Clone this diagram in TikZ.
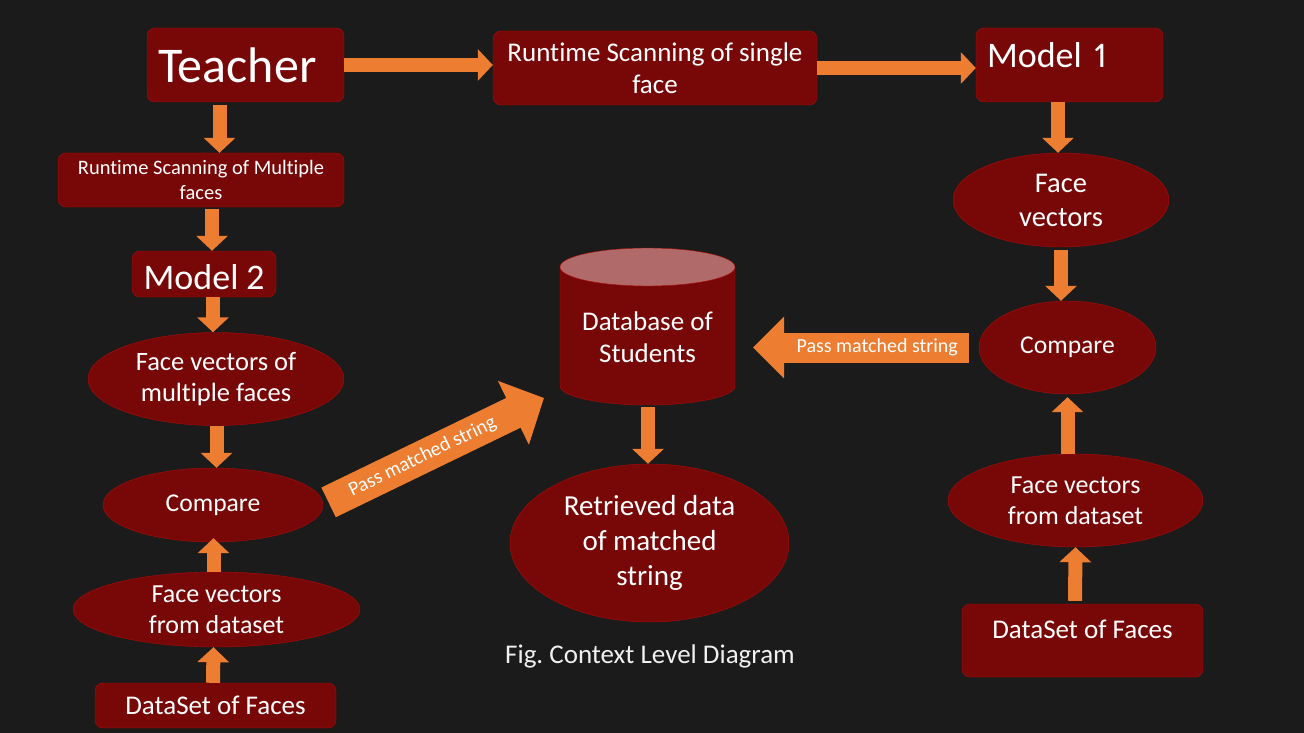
\documentclass[tikz,border=0pt]{standalone}
\usepackage{fontspec}
\setmainfont{Carlito}[Ligatures={NoCommon, NoRare}, Contextuals=NoAlternate, Numbers=Proportional]
\usetikzlibrary{shapes.geometric, arrows.meta}

\definecolor{bgdark}{HTML}{1B1B1B}
\definecolor{boxred}{HTML}{780808}
\definecolor{edgered}{HTML}{B00A0A}
\definecolor{dbtop}{HTML}{B06A6A}
\definecolor{arrorange}{HTML}{ED7D31}

\tikzset{
  box/.style={draw=edgered, fill=boxred, rounded corners=8pt, text=white, align=center, inner sep=2pt},
  oval/.style={ellipse, draw=edgered, fill=boxred, text=white, align=center, inner sep=0pt},
  flow/.style={draw=arrorange, line width=14pt, -{Triangle[length=15pt, width=31pt]}},
  bigflow/.style={draw=arrorange, line width=30pt, -{Triangle[length=31pt, width=60pt]}}
}

\begin{document}
\begin{tikzpicture}[x=1pt, y=-1pt]
  \fill[bgdark] (0,0) rectangle (1304,733);
  \useasboundingbox (0,0) rectangle (1304,733);

  \node[box, minimum width=197pt, minimum height=74pt, text width=175pt, inner xsep=11pt, align=left, font=\fontsize{50}{60}\selectfont] (teacher) at (245.5,65) {Teacher};
  \node[box, minimum width=324pt, minimum height=74pt, font=\fontsize{27}{32}\selectfont] (rtsingle) at (655,68) {Runtime Scanning of single\\face};
  \node[box, minimum width=187pt, minimum height=74pt, text width=165pt, text depth=20pt, align=left, font=\fontsize{36}{43}\selectfont] (model1) at (1069.5,65) {Model 1};
  \node[box, minimum width=286pt, minimum height=54pt, font=\fontsize{20.5}{25}\selectfont] (rtmulti) at (201,180) {Runtime Scanning of Multiple\\faces};
  \node[box, minimum width=144pt, minimum height=46pt, text height=31pt, font=\fontsize{36}{43}\selectfont] (model2) at (204,274) {Model 2};
  \node[oval, minimum width=256pt, minimum height=93pt, font=\fontsize{26.5}{31}\selectfont] (fvmulti) at (216,379) {Face vectors of\\multiple faces};
  \node[oval, minimum width=220pt, minimum height=74pt, font=\fontsize{25.6}{31}\selectfont] (cmpL) at (213,505) {Compare};
  \node[oval, minimum width=287pt, minimum height=75pt, font=\fontsize{26}{31}\selectfont] (fvdsL) at (216.5,609.5) {Face vectors\\from dataset};
  \node[box, minimum width=241pt, minimum height=45pt, font=\fontsize{27}{32}\selectfont] (dsL) at (215.5,705.5) {DataSet of Faces};

  \node[oval, minimum width=216pt, minimum height=94pt, font=\fontsize{28.5}{34}\selectfont] (fvR) at (1061,200) {Face\\vectors};
  \node[oval, minimum width=177pt, minimum height=93pt, font=\fontsize{25.6}{31}\selectfont] (cmpR) at (1067.5,347.5) {Compare};
  \node[oval, minimum width=255pt, minimum height=93pt, font=\fontsize{26}{31}\selectfont] (fvdsR) at (1075.5,500.5) {Face vectors\\from dataset};
  \node[box, minimum width=241pt, minimum height=73pt, text depth=22pt, font=\fontsize{27}{32}\selectfont] (dsR) at (1082.5,640.5) {DataSet of Faces};

  \fill[boxred] (560,267) -- (560,386) arc[start angle=180, end angle=0, x radius=87.5, y radius=19] -- (735,267) -- cycle;
  \draw[edgered] (560,267) -- (560,386) arc[start angle=180, end angle=0, x radius=87.5, y radius=19] -- (735,267);
  \filldraw[fill=dbtop, draw=edgered] (647.5,267) ellipse[x radius=87.5, y radius=19];
  \node[text=white, align=center, font=\fontsize{27}{32}\selectfont] (db) at (647.5,337) {Database of\\Students};
  \coordinate (dbL) at (544,398);
  \coordinate (dbR) at (753,347.5);
  \coordinate (dbB) at (648,407);

  \node[oval, minimum width=279pt, minimum height=158pt, font=\fontsize{29}{35}\selectfont] (retr) at (649.5,543) {Retrieved data\\of matched\\string};
  \node[text=white!94!black, font=\fontsize{27}{32}\selectfont] (caption) at (650,656) {Fig.\ Context Level Diagram};

  \draw[flow] (teacher.east) -- (teacher.east -| rtsingle.west);
  \draw[flow] (rtsingle.east) -- (rtsingle.east -| model1.west);
  \draw[flow, shorten <=3pt] ([xshift=-26pt]teacher.south) -- ([xshift=18.5pt]rtmulti.north);
  \draw[flow, shorten <=2pt] ([xshift=11pt]rtmulti.south) -- ([xshift=8pt]model2.north);
  \draw[flow] ([xshift=9pt]model2.south) -- ([xshift=-3pt]fvmulti.north);
  \draw[flow] ([xshift=0.5pt]fvmulti.south) -- ([xshift=3.5pt]cmpL.north);
  \draw[flow, shorten >=-4pt] ([xshift=-3pt]fvdsL.north) -- ([xshift=0.5pt]cmpL.south);
  \draw[flow] ([xshift=-2.5pt]dsL.north) -- ([xshift=-3pt]fvdsL.south);
  \draw[flow] (dbB) -- ([xshift=-1.5pt]retr.north);
  \draw[bigflow, line width=33pt, -{Triangle[length=34pt, width=69pt]}, shorten <=6pt] (cmpL.east) -- (dbL)
    node[pos=0.45, sloped, text=white, font=\fontsize{20}{24}\selectfont] {Pass matched string};

  \draw[flow] ([xshift=-11.5pt]model1.south) -- ([xshift=-3pt]fvR.north);
  \draw[flow, shorten <=3pt] ([xshift=0pt]fvR.south) -- ([xshift=-6.5pt]cmpR.north);
  \draw[flow, shorten >=3pt] ([xshift=-8pt]fvdsR.north) -- (cmpR.south);
  \draw[flow, shorten <=3pt] ([xshift=-7.5pt]dsR.north) -- (fvdsR.south);
  \draw[bigflow, shorten <=10pt] (cmpR.west) -- (dbR)
    node[pos=0.45, text=white, font=\fontsize{20}{24}\selectfont] {Pass matched string};
\end{tikzpicture}
\end{document}
